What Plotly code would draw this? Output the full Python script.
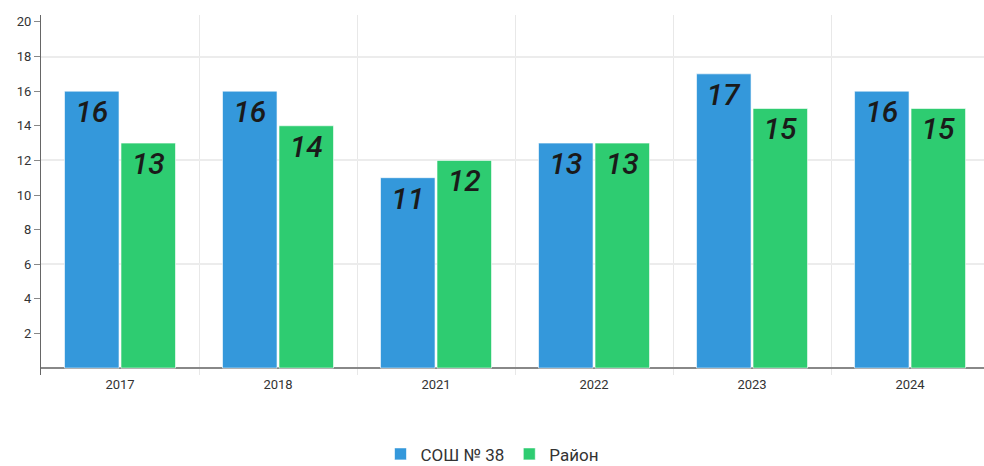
import plotly.graph_objects as go

years = ["2017", "2018", "2021", "2022", "2023", "2024"]
school = [16, 16, 11, 13, 17, 16]
district = [13, 14, 12, 13, 15, 15]
series_names = ["СОШ № 38", "Район"]
colors = ["#3498db", "#2ecc71"]
y_ticks = [2, 4, 6, 8, 10, 12, 14, 16, 18, 20]

FONT = "Liberation Sans Narrow, Roboto, sans-serif"

fig = go.Figure()
for name, vals, col in zip(series_names, [school, district], colors):
    fig.add_trace(go.Bar(
        x=years, y=vals, name=name,
        marker=dict(color=col, line=dict(color="rgba(255,255,255,0.6)", width=1)),
        text=vals, textposition="inside", insidetextanchor="end",
        textangle=0,
        textfont=dict(family=FONT, size=30, color="#1a1a1a", style="italic", weight=500),
        cliponaxis=False,
    ))

# helper invisible trace for a second y-axis used only for sparse gridlines
fig.add_trace(go.Scatter(x=years, y=[None]*len(years), yaxis="y2",
                         showlegend=False, hoverinfo="skip"))

fig.update_layout(
    width=984, height=466,
    margin=dict(l=41, r=0, t=15, b=91),
    paper_bgcolor="white", plot_bgcolor="white",
    barmode="group", bargap=0.285, bargroupgap=0.035,
    font=dict(family=FONT, color="#333333"),
    xaxis=dict(
        type="category", range=[-0.5, 5.468],
        tickson="boundaries", showgrid=True, gridcolor="#e8e8e8", gridwidth=1,
        ticks="", showline=False, zeroline=False,
        tickfont=dict(size=13, color="#333333"),
    ),
    yaxis=dict(
        range=[-0.4, 20.4], tickvals=y_ticks, showgrid=False,
        showline=True, linecolor="#666666", linewidth=1,
        ticks="outside", ticklen=6, tickcolor="#888888",
        zeroline=True, zerolinecolor="#888888", zerolinewidth=2,
        tickfont=dict(size=13, color="#333333"),
        automargin=False,
    ),
    yaxis2=dict(
        range=[-0.4, 20.4], overlaying="y", tick0=0, dtick=6,
        showgrid=True, gridcolor="#ececec", gridwidth=2,
        showticklabels=False, ticks="", zeroline=False, showline=False,
    ),
    legend=dict(
        orientation="h", xref="container", yref="container",
        x=0.5, xanchor="center", y=0.025, yanchor="middle",
        font=dict(size=17, color="#333333"),
        itemwidth=30,
    ),
    showlegend=True,
)

fig.write_html(
    "out.html",
    config={"displayModeBar": False},
    post_script="document.body.style.margin='0';document.body.style.overflow='hidden';",
)
